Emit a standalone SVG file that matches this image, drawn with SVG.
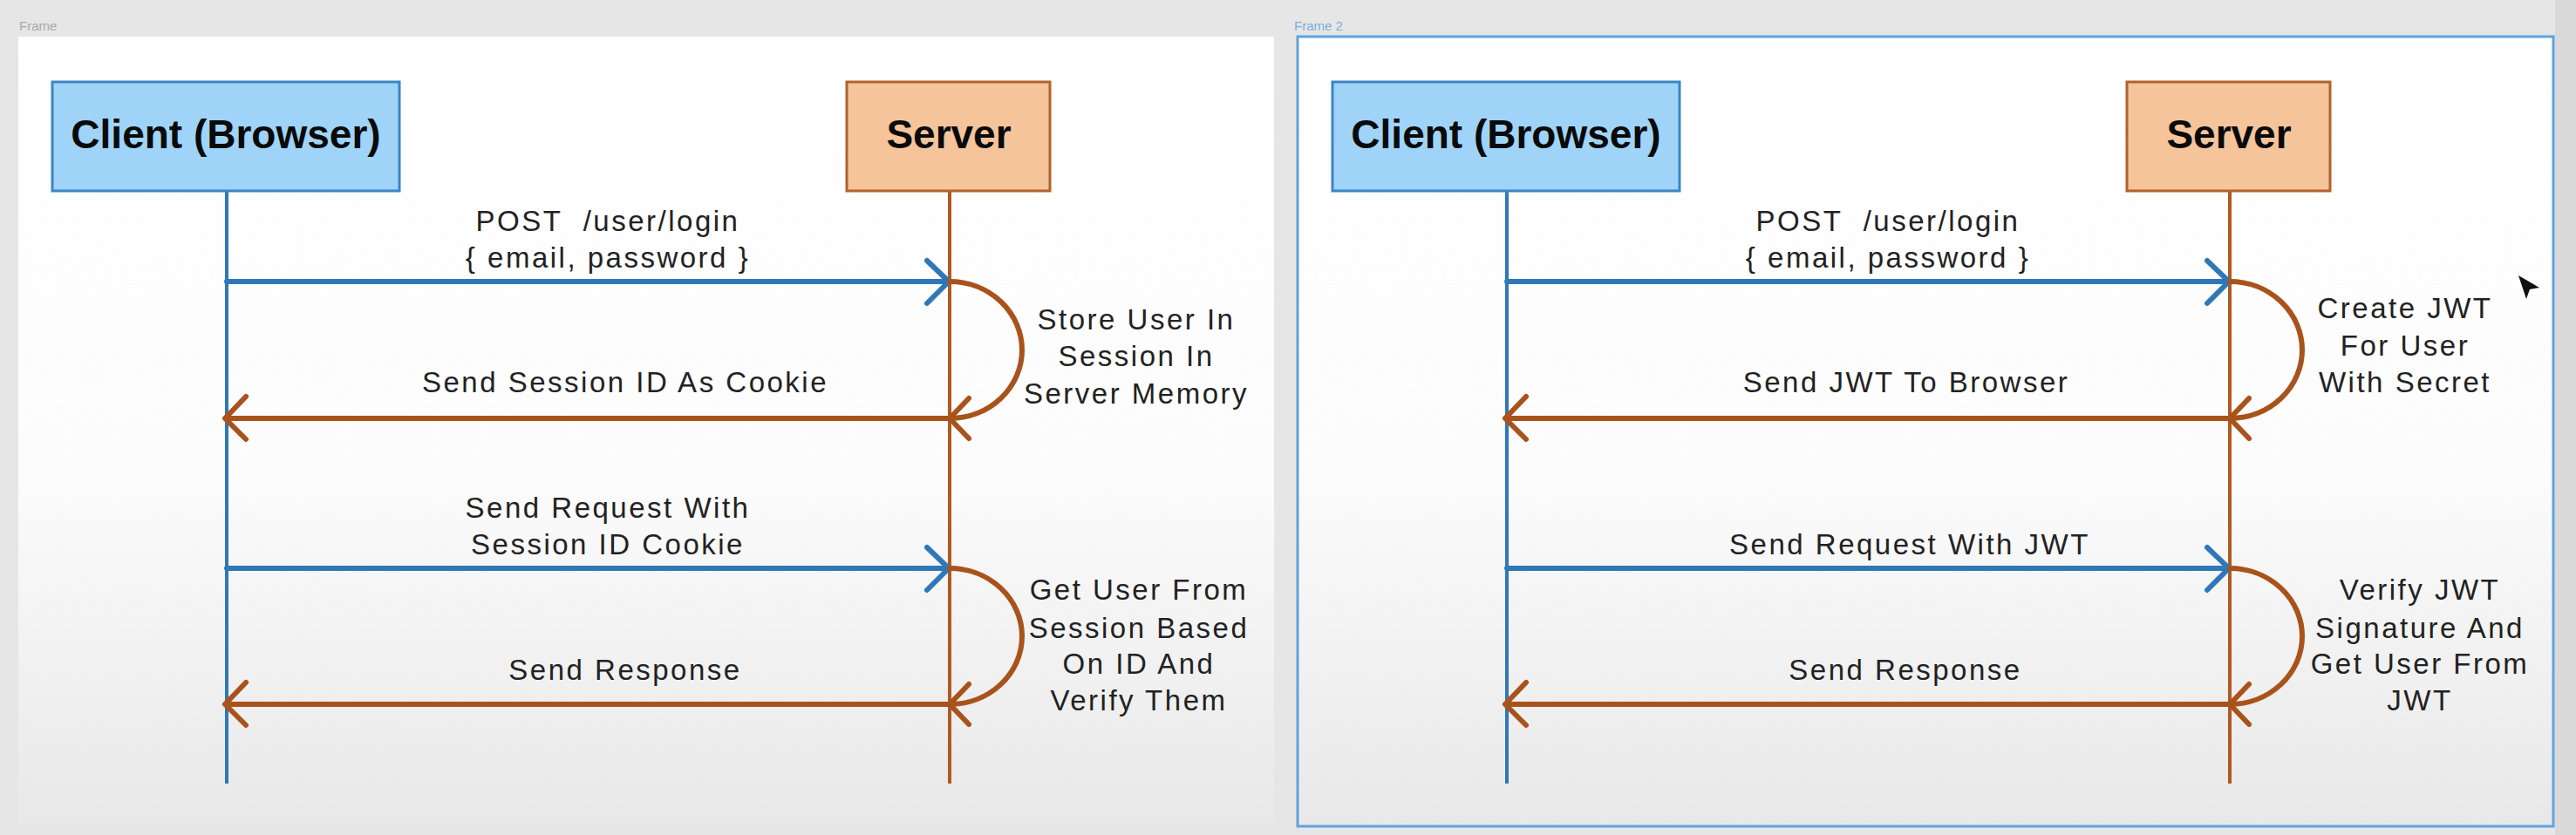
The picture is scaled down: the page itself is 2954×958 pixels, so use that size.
<svg xmlns="http://www.w3.org/2000/svg" width="2954" height="958" viewBox="0 0 2954 958">
<defs>
<linearGradient id="fg" x1="0" y1="0" x2="0" y2="1">
<stop offset="0" stop-color="#ffffff"/>
<stop offset="0.55" stop-color="#fcfcfc"/>
<stop offset="1" stop-color="#e8e8e8"/>
</linearGradient>
<style>
.title{font-family:"Liberation Sans",Arial,sans-serif;font-weight:bold;font-size:46px;fill:#0a0a0a;text-anchor:middle}
.lbl{font-family:"Liberation Sans",Arial,sans-serif;font-size:33px;letter-spacing:2.5px;fill:#222;text-anchor:middle}
.flabel{font-family:"Liberation Sans",Arial,sans-serif;font-size:15px}
.client{fill:#9fd4f8;stroke:#3a86c4;stroke-width:3}
.server{fill:#f5c49b;stroke:#b2622a;stroke-width:3}
.ll-b{stroke:#2f78b8;stroke-width:4;fill:none}
.ll-o{stroke:#b05a22;stroke-width:4;fill:none}
.req{stroke:#2f78b8;stroke-width:6;fill:none;stroke-linecap:round;stroke-linejoin:round}
.res{stroke:#a9531c;stroke-width:6;fill:none;stroke-linecap:round;stroke-linejoin:round}
</style>
</defs>
<rect x="0" y="0" width="2954" height="958" fill="#e6e6e6"/>
<rect x="2930" y="0" width="24" height="958" fill="#d9d9d9"/>

<!-- Frame 1 -->
<g id="frame1">
<text class="flabel" x="22" y="35" fill="#a9a9a9">Frame</text>
<rect x="21" y="42" width="1440" height="906" fill="url(#fg)"/>
</g>
<!-- Frame 2 -->
<g id="frame2">
<text class="flabel" x="1484" y="35" fill="#7aaee0">Frame 2</text>
<rect x="1488" y="42" width="1440" height="906" fill="url(#fg)" stroke="#5fa2e0" stroke-width="3"/>
</g>

<!-- Lifelines & connectors -->
<g id="connectors">
<!-- frame 1 -->
<line class="ll-b" x1="260" y1="219" x2="260" y2="899"/>
<line class="ll-o" x1="1089" y1="219" x2="1089" y2="899"/>
<line class="req" x1="260" y1="323" x2="1086" y2="323"/>
<polyline class="req" points="1063,299 1088,323 1063,348"/>
<path class="res" d="M1089,323 A83,78.5 0 0 1 1089,480"/>
<polyline class="res" points="1111,457 1089,480 1111,503"/>
<line class="res" x1="1089" y1="480" x2="259" y2="480"/>
<polyline class="res" points="282,455 258,480 282,504"/>

<line class="req" x1="260" y1="652" x2="1086" y2="652"/>
<polyline class="req" points="1063,628 1088,652 1063,677"/>
<path class="res" d="M1089,652 A83,78 0 0 1 1089,808"/>
<polyline class="res" points="1111,785 1089,808 1111,831"/>
<line class="res" x1="1089" y1="808" x2="259" y2="808"/>
<polyline class="res" points="282,783 258,808 282,832"/>

<!-- frame 2 -->
<line class="ll-b" x1="1728" y1="219" x2="1728" y2="899"/>
<line class="ll-o" x1="2557" y1="219" x2="2557" y2="899"/>
<line class="req" x1="1728" y1="323" x2="2554" y2="323"/>
<polyline class="req" points="2531,299 2556,323 2531,348"/>
<path class="res" d="M2557,323 A83,78.5 0 0 1 2557,480"/>
<polyline class="res" points="2579,457 2557,480 2579,503"/>
<line class="res" x1="2557" y1="480" x2="1727" y2="480"/>
<polyline class="res" points="1750,455 1726,480 1750,504"/>

<line class="req" x1="1728" y1="652" x2="2554" y2="652"/>
<polyline class="req" points="2531,628 2556,652 2531,677"/>
<path class="res" d="M2557,652 A83,78 0 0 1 2557,808"/>
<polyline class="res" points="2579,785 2557,808 2579,831"/>
<line class="res" x1="2557" y1="808" x2="1727" y2="808"/>
<polyline class="res" points="1750,783 1726,808 1750,832"/>
</g>

<!-- Nodes frame 1 -->
<g id="client1">
<rect class="client" x="60" y="94" width="398" height="125"/>
<text class="title" x="259" y="170">Client (Browser)</text>
</g>
<g id="server1">
<rect class="server" x="971" y="94" width="233" height="125"/>
<text class="title" x="1088" y="170">Server</text>
</g>
<!-- Nodes frame 2 -->
<g id="client2">
<rect class="client" x="1528" y="94" width="398" height="125"/>
<text class="title" x="1727" y="170">Client (Browser)</text>
</g>
<g id="server2">
<rect class="server" x="2439" y="94" width="233" height="125"/>
<text class="title" x="2556" y="170">Server</text>
</g>

<!-- Labels frame 1 -->
<g id="labels1">
<text class="lbl" x="697" y="265">POST&#160; /user/login</text>
<text class="lbl" x="697" y="307">{ email, password }</text>
<text class="lbl" x="717" y="450">Send Session ID As Cookie</text>
<text class="lbl" x="697" y="594">Send Request With</text>
<text class="lbl" x="697" y="636">Session ID Cookie</text>
<text class="lbl" x="717" y="780">Send Response</text>
<text class="lbl" x="1303" y="378">Store User In</text>
<text class="lbl" x="1303" y="420">Session In</text>
<text class="lbl" x="1303" y="463">Server Memory</text>
<text class="lbl" x="1306" y="688">Get User From</text>
<text class="lbl" x="1306" y="732">Session Based</text>
<text class="lbl" x="1306" y="773">On ID And</text>
<text class="lbl" x="1306" y="815">Verify Them</text>
</g>
<!-- Labels frame 2 -->
<g id="labels2">
<text class="lbl" x="2165" y="265">POST&#160; /user/login</text>
<text class="lbl" x="2165" y="307">{ email, password }</text>
<text class="lbl" x="2186" y="450">Send JWT To Browser</text>
<text class="lbl" x="2190" y="636">Send Request With JWT</text>
<text class="lbl" x="2185" y="780">Send Response</text>
<text class="lbl" x="2758" y="365">Create JWT</text>
<text class="lbl" x="2758" y="408">For User</text>
<text class="lbl" x="2758" y="450">With Secret</text>
<text class="lbl" x="2775" y="688">Verify JWT</text>
<text class="lbl" x="2775" y="732">Signature And</text>
<text class="lbl" x="2775" y="773">Get User From</text>
<text class="lbl" x="2775" y="815">JWT</text>
</g>

<!-- mouse cursor -->
<polygon points="2888,316 2912,330 2901,332 2897,343" fill="#111"/>
</svg>
